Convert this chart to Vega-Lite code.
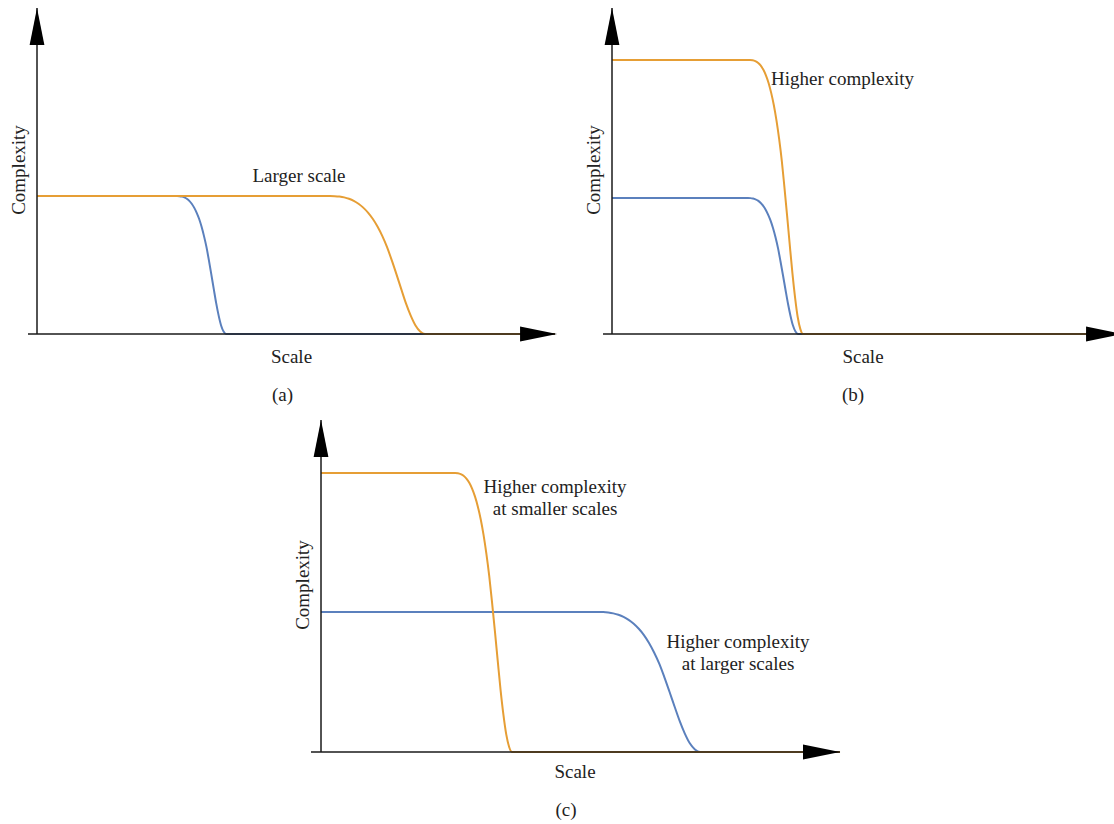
{
  "$schema": "https://vega.github.io/schema/vega-lite/v6.json",
  "padding": 0,
  "spacing": 0,
  "config": {"view": {"stroke": null}},
  "datasets": {
    "curves": [
      {"p":"a","s":"blue","x":0,"y":42.33},{"p":"a","s":"blue","x":27.03,"y":42.33},{"p":"a","s":"blue","x":27.5,"y":42.29},{"p":"a","s":"blue","x":27.98,"y":42.16},{"p":"a","s":"blue","x":28.45,"y":41.91},{"p":"a","s":"blue","x":28.92,"y":41.48},{"p":"a","s":"blue","x":29.4,"y":40.85},{"p":"a","s":"blue","x":29.87,"y":39.96},{"p":"a","s":"blue","x":30.34,"y":38.77},{"p":"a","s":"blue","x":30.81,"y":37.25},{"p":"a","s":"blue","x":31.29,"y":35.35},{"p":"a","s":"blue","x":31.76,"y":32.97},{"p":"a","s":"blue","x":32.23,"y":30.1},{"p":"a","s":"blue","x":32.71,"y":26.71},{"p":"a","s":"blue","x":33.18,"y":22.65},{"p":"a","s":"blue","x":33.65,"y":18.29},{"p":"a","s":"blue","x":34.13,"y":13.76},{"p":"a","s":"blue","x":34.6,"y":9.4},{"p":"a","s":"blue","x":35.07,"y":5.63},{"p":"a","s":"blue","x":35.54,"y":2.62},{"p":"a","s":"blue","x":36.02,"y":0.76},{"p":"a","s":"blue","x":36.49,"y":0},{"p":"a","s":"blue","x":100,"y":0},
      {"p":"a","s":"orange","x":0,"y":42.33},{"p":"a","s":"orange","x":56.56,"y":42.33},{"p":"a","s":"orange","x":57.48,"y":42.29},{"p":"a","s":"orange","x":58.39,"y":42.16},{"p":"a","s":"orange","x":59.31,"y":41.91},{"p":"a","s":"orange","x":60.23,"y":41.48},{"p":"a","s":"orange","x":61.15,"y":40.85},{"p":"a","s":"orange","x":62.06,"y":39.96},{"p":"a","s":"orange","x":62.98,"y":38.77},{"p":"a","s":"orange","x":63.9,"y":37.25},{"p":"a","s":"orange","x":64.81,"y":35.35},{"p":"a","s":"orange","x":65.73,"y":32.97},{"p":"a","s":"orange","x":66.65,"y":30.1},{"p":"a","s":"orange","x":67.56,"y":26.71},{"p":"a","s":"orange","x":68.48,"y":22.65},{"p":"a","s":"orange","x":69.4,"y":18.29},{"p":"a","s":"orange","x":70.32,"y":13.76},{"p":"a","s":"orange","x":71.23,"y":9.4},{"p":"a","s":"orange","x":72.15,"y":5.63},{"p":"a","s":"orange","x":73.07,"y":2.62},{"p":"a","s":"orange","x":73.98,"y":0.76},{"p":"a","s":"orange","x":74.9,"y":0},{"p":"a","s":"orange","x":100,"y":0},
      {"p":"b","s":"orange","x":0,"y":84.05},{"p":"b","s":"orange","x":27.49,"y":84.05},{"p":"b","s":"orange","x":28.02,"y":83.97},{"p":"b","s":"orange","x":28.55,"y":83.71},{"p":"b","s":"orange","x":29.07,"y":83.21},{"p":"b","s":"orange","x":29.6,"y":82.37},{"p":"b","s":"orange","x":30.13,"y":81.11},{"p":"b","s":"orange","x":30.66,"y":79.34},{"p":"b","s":"orange","x":31.19,"y":76.99},{"p":"b","s":"orange","x":31.71,"y":73.96},{"p":"b","s":"orange","x":32.24,"y":70.18},{"p":"b","s":"orange","x":32.77,"y":65.47},{"p":"b","s":"orange","x":33.3,"y":59.76},{"p":"b","s":"orange","x":33.83,"y":53.04},{"p":"b","s":"orange","x":34.35,"y":44.97},{"p":"b","s":"orange","x":34.88,"y":36.31},{"p":"b","s":"orange","x":35.41,"y":27.32},{"p":"b","s":"orange","x":35.94,"y":18.66},{"p":"b","s":"orange","x":36.47,"y":11.18},{"p":"b","s":"orange","x":36.99,"y":5.21},{"p":"b","s":"orange","x":37.52,"y":1.51},{"p":"b","s":"orange","x":38.05,"y":0},{"p":"b","s":"orange","x":100,"y":0},
      {"p":"b","s":"blue","x":0,"y":41.72},{"p":"b","s":"blue","x":27.09,"y":41.72},{"p":"b","s":"blue","x":27.59,"y":41.68},{"p":"b","s":"blue","x":28.09,"y":41.55},{"p":"b","s":"blue","x":28.58,"y":41.3},{"p":"b","s":"blue","x":29.08,"y":40.89},{"p":"b","s":"blue","x":29.58,"y":40.26},{"p":"b","s":"blue","x":30.08,"y":39.38},{"p":"b","s":"blue","x":30.58,"y":38.22},{"p":"b","s":"blue","x":31.07,"y":36.71},{"p":"b","s":"blue","x":31.57,"y":34.84},{"p":"b","s":"blue","x":32.07,"y":32.5},{"p":"b","s":"blue","x":32.57,"y":29.66},{"p":"b","s":"blue","x":33.07,"y":26.33},{"p":"b","s":"blue","x":33.56,"y":22.32},{"p":"b","s":"blue","x":34.06,"y":18.02},{"p":"b","s":"blue","x":34.56,"y":13.56},{"p":"b","s":"blue","x":35.06,"y":9.26},{"p":"b","s":"blue","x":35.56,"y":5.55},{"p":"b","s":"blue","x":36.05,"y":2.59},{"p":"b","s":"blue","x":36.55,"y":0.75},{"p":"b","s":"blue","x":37.05,"y":0},{"p":"b","s":"blue","x":100,"y":0},
      {"p":"c","s":"orange","x":0,"y":84.04},{"p":"c","s":"orange","x":25.82,"y":84.04},{"p":"c","s":"orange","x":26.37,"y":83.96},{"p":"c","s":"orange","x":26.92,"y":83.7},{"p":"c","s":"orange","x":27.47,"y":83.2},{"p":"c","s":"orange","x":28.02,"y":82.36},{"p":"c","s":"orange","x":28.57,"y":81.1},{"p":"c","s":"orange","x":29.11,"y":79.33},{"p":"c","s":"orange","x":29.66,"y":76.98},{"p":"c","s":"orange","x":30.21,"y":73.96},{"p":"c","s":"orange","x":30.76,"y":70.17},{"p":"c","s":"orange","x":31.31,"y":65.47},{"p":"c","s":"orange","x":31.86,"y":59.75},{"p":"c","s":"orange","x":32.41,"y":53.03},{"p":"c","s":"orange","x":32.96,"y":44.96},{"p":"c","s":"orange","x":33.51,"y":36.31},{"p":"c","s":"orange","x":34.06,"y":27.31},{"p":"c","s":"orange","x":34.6,"y":18.66},{"p":"c","s":"orange","x":35.15,"y":11.18},{"p":"c","s":"orange","x":35.7,"y":5.21},{"p":"c","s":"orange","x":36.25,"y":1.51},{"p":"c","s":"orange","x":36.8,"y":0},{"p":"c","s":"orange","x":100,"y":0},
      {"p":"c","s":"blue","x":0,"y":42.17},{"p":"c","s":"blue","x":53.37,"y":42.17},{"p":"c","s":"blue","x":54.35,"y":42.13},{"p":"c","s":"blue","x":55.34,"y":42.0},{"p":"c","s":"blue","x":56.32,"y":41.75},{"p":"c","s":"blue","x":57.3,"y":41.33},{"p":"c","s":"blue","x":58.29,"y":40.69},{"p":"c","s":"blue","x":59.27,"y":39.81},{"p":"c","s":"blue","x":60.25,"y":38.63},{"p":"c","s":"blue","x":61.23,"y":37.11},{"p":"c","s":"blue","x":62.22,"y":35.21},{"p":"c","s":"blue","x":63.2,"y":32.85},{"p":"c","s":"blue","x":64.18,"y":29.98},{"p":"c","s":"blue","x":65.17,"y":26.61},{"p":"c","s":"blue","x":66.15,"y":22.56},{"p":"c","s":"blue","x":67.13,"y":18.22},{"p":"c","s":"blue","x":68.12,"y":13.71},{"p":"c","s":"blue","x":69.1,"y":9.36},{"p":"c","s":"blue","x":70.08,"y":5.61},{"p":"c","s":"blue","x":71.06,"y":2.61},{"p":"c","s":"blue","x":72.05,"y":0.76},{"p":"c","s":"blue","x":73.03,"y":0},{"p":"c","s":"blue","x":100,"y":0}
    ],
    "axes": [
      {"p":"a","x":-1.74,"x2":100,"y":0,"y2":0},{"p":"a","x":0,"x2":0,"y":0,"y2":100},
      {"p":"b","x":-1.79,"x2":100,"y":0,"y2":0},{"p":"b","x":0,"x2":0,"y":0,"y2":100},
      {"p":"c","x":-1.93,"x2":100,"y":0,"y2":0},{"p":"c","x":0,"x2":0,"y":0,"y2":100}
    ],
    "arrows": [
      {"p":"a","d":"up","x":0,"y":100},{"p":"a","d":"right","x":100.4,"y":0},
      {"p":"b","d":"up","x":0,"y":100},{"p":"b","d":"right","x":101.8,"y":0},
      {"p":"c","d":"up","x":0,"y":100},{"p":"c","d":"right","x":100,"y":0}
    ],
    "labels": [
      {"p":"a","t":"Larger scale","x":50.58,"y":46.63},
      {"p":"a","t":"Scale","x":49.13,"y":-8.9},
      {"p":"a","t":"(a)","x":47.39,"y":-20.55},
      {"p":"b","t":"Higher complexity","x":45.92,"y":76.38},
      {"p":"b","t":"Scale","x":50.0,"y":-8.9},
      {"p":"b","t":"(b)","x":48.0,"y":-20.55},
      {"p":"c","t":"Higher complexity","x":45.09,"y":78.01},
      {"p":"c","t":"at smaller scales","x":45.09,"y":71.39},
      {"p":"c","t":"Higher complexity","x":80.35,"y":31.33},
      {"p":"c","t":"at larger scales","x":80.35,"y":24.7},
      {"p":"c","t":"Scale","x":48.94,"y":-7.83},
      {"p":"c","t":"(c)","x":47.2,"y":-19.28}
    ],
    "vlabels": [
      {"p":"a","t":"Complexity","x":-3.47,"y":50.31},
      {"p":"b","t":"Complexity","x":-3.59,"y":50.31},
      {"p":"c","t":"Complexity","x":-3.47,"y":50.3}
    ]
  },
  "vconcat": [
    {
      "hconcat": [
        {
          "width": 575, "height": 410,
          "layer": [
            {"data":{"name":"curves"},"transform":[{"filter":"datum.p === 'a' && datum.s === 'blue'"}],"mark":{"type":"line","strokeWidth":2,"color":"#5B80BD","interpolate":"monotone"},"encoding":{"x":{"field":"x","type":"quantitative","scale":{"domain":[-7.143,103.861],"nice":false,"zero":false},"axis":null},"y":{"field":"y","type":"quantitative","scale":{"domain":[-23.313,102.454],"nice":false,"zero":false},"axis":null}}},
            {"data":{"name":"curves"},"transform":[{"filter":"datum.p === 'a' && datum.s === 'orange'"}],"mark":{"type":"line","strokeWidth":2,"color":"#E69E35","interpolate":"monotone"},"encoding":{"x":{"field":"x","type":"quantitative"},"y":{"field":"y","type":"quantitative"}}},
            {"data":{"name":"axes"},"transform":[{"filter":"datum.p === 'a'"}],"mark":{"type":"rule","color":"#1a1a1a","strokeWidth":1.5},"encoding":{"x":{"field":"x","type":"quantitative"},"x2":{"field":"x2"},"y":{"field":"y","type":"quantitative"},"y2":{"field":"y2"}}},
            {"data":{"name":"arrows"},"transform":[{"filter":"datum.p === 'a'"}],"mark":{"type":"point","filled":true,"color":"#000000","opacity":1,"strokeWidth":0},"encoding":{"x":{"field":"x","type":"quantitative"},"y":{"field":"y","type":"quantitative"},"shape":{"field":"d","type":"nominal","scale":{"domain":["up","right"],"range":["M0,0L0.4,2L-0.4,2Z","M0,0L-2,-0.4L-2,0.4Z"]},"legend":null},"size":{"value":1369}}},
            {"data":{"name":"labels"},"transform":[{"filter":"datum.p === 'a'"}],"mark":{"type":"text","font":"Liberation Serif","fontSize":19,"color":"#222222","align":"center","baseline":"alphabetic"},"encoding":{"x":{"field":"x","type":"quantitative"},"y":{"field":"y","type":"quantitative"},"text":{"field":"t"}}},
            {"data":{"name":"vlabels"},"transform":[{"filter":"datum.p === 'a'"}],"mark":{"type":"text","font":"Liberation Serif","fontSize":19,"color":"#222222","align":"center","baseline":"middle","angle":270},"encoding":{"x":{"field":"x","type":"quantitative"},"y":{"field":"y","type":"quantitative"},"text":{"field":"t"}}}
          ]
        },
        {
          "width": 539, "height": 410,
          "layer": [
            {"data":{"name":"curves"},"transform":[{"filter":"datum.p === 'b' && datum.s === 'blue'"}],"mark":{"type":"line","strokeWidth":2,"color":"#5B80BD","interpolate":"monotone"},"encoding":{"x":{"field":"x","type":"quantitative","scale":{"domain":[-7.371,100],"nice":false,"zero":false},"axis":null},"y":{"field":"y","type":"quantitative","scale":{"domain":[-23.313,102.454],"nice":false,"zero":false},"axis":null}}},
            {"data":{"name":"curves"},"transform":[{"filter":"datum.p === 'b' && datum.s === 'orange'"}],"mark":{"type":"line","strokeWidth":2,"color":"#E69E35","interpolate":"monotone"},"encoding":{"x":{"field":"x","type":"quantitative"},"y":{"field":"y","type":"quantitative"}}},
            {"data":{"name":"axes"},"transform":[{"filter":"datum.p === 'b'"}],"mark":{"type":"rule","color":"#1a1a1a","strokeWidth":1.5},"encoding":{"x":{"field":"x","type":"quantitative"},"x2":{"field":"x2"},"y":{"field":"y","type":"quantitative"},"y2":{"field":"y2"}}},
            {"data":{"name":"arrows"},"transform":[{"filter":"datum.p === 'b'"}],"mark":{"type":"point","filled":true,"color":"#000000","opacity":1,"strokeWidth":0,"clip":true},"encoding":{"x":{"field":"x","type":"quantitative"},"y":{"field":"y","type":"quantitative"},"shape":{"field":"d","type":"nominal","scale":{"domain":["up","right"],"range":["M0,0L0.4,2L-0.4,2Z","M0,0L-2,-0.4L-2,0.4Z"]},"legend":null},"size":{"value":1369}}},
            {"data":{"name":"labels"},"transform":[{"filter":"datum.p === 'b'"}],"mark":{"type":"text","font":"Liberation Serif","fontSize":19,"color":"#222222","align":"center","baseline":"alphabetic"},"encoding":{"x":{"field":"x","type":"quantitative"},"y":{"field":"y","type":"quantitative"},"text":{"field":"t"}}},
            {"data":{"name":"vlabels"},"transform":[{"filter":"datum.p === 'b'"}],"mark":{"type":"text","font":"Liberation Serif","fontSize":19,"color":"#222222","align":"center","baseline":"middle","angle":270},"encoding":{"x":{"field":"x","type":"quantitative"},"y":{"field":"y","type":"quantitative"},"text":{"field":"t"}}}
          ]
        }
      ],
      "spacing": 0
    },
    {
      "width": 1114, "height": 414,
      "layer": [
        {"data":{"name":"curves"},"transform":[{"filter":"datum.p === 'c' && datum.s === 'blue'"}],"mark":{"type":"line","strokeWidth":2,"color":"#5B80BD","interpolate":"monotone"},"encoding":{"x":{"field":"x","type":"quantitative","scale":{"domain":[-61.85,152.79],"nice":false,"zero":false},"axis":null},"y":{"field":"y","type":"quantitative","scale":{"domain":[-21.69,103.01],"nice":false,"zero":false},"axis":null}}},
        {"data":{"name":"curves"},"transform":[{"filter":"datum.p === 'c' && datum.s === 'orange'"}],"mark":{"type":"line","strokeWidth":2,"color":"#E69E35","interpolate":"monotone"},"encoding":{"x":{"field":"x","type":"quantitative"},"y":{"field":"y","type":"quantitative"}}},
        {"data":{"name":"axes"},"transform":[{"filter":"datum.p === 'c'"}],"mark":{"type":"rule","color":"#1a1a1a","strokeWidth":1.5},"encoding":{"x":{"field":"x","type":"quantitative"},"x2":{"field":"x2"},"y":{"field":"y","type":"quantitative"},"y2":{"field":"y2"}}},
        {"data":{"name":"arrows"},"transform":[{"filter":"datum.p === 'c'"}],"mark":{"type":"point","filled":true,"color":"#000000","opacity":1,"strokeWidth":0},"encoding":{"x":{"field":"x","type":"quantitative"},"y":{"field":"y","type":"quantitative"},"shape":{"field":"d","type":"nominal","scale":{"domain":["up","right"],"range":["M0,0L0.4,2L-0.4,2Z","M0,0L-2,-0.4L-2,0.4Z"]},"legend":null},"size":{"value":1369}}},
        {"data":{"name":"labels"},"transform":[{"filter":"datum.p === 'c'"}],"mark":{"type":"text","font":"Liberation Serif","fontSize":19,"color":"#222222","align":"center","baseline":"alphabetic"},"encoding":{"x":{"field":"x","type":"quantitative"},"y":{"field":"y","type":"quantitative"},"text":{"field":"t"}}},
        {"data":{"name":"vlabels"},"transform":[{"filter":"datum.p === 'c'"}],"mark":{"type":"text","font":"Liberation Serif","fontSize":19,"color":"#222222","align":"center","baseline":"middle","angle":270},"encoding":{"x":{"field":"x","type":"quantitative"},"y":{"field":"y","type":"quantitative"},"text":{"field":"t"}}}
      ]
    }
  ]
}
